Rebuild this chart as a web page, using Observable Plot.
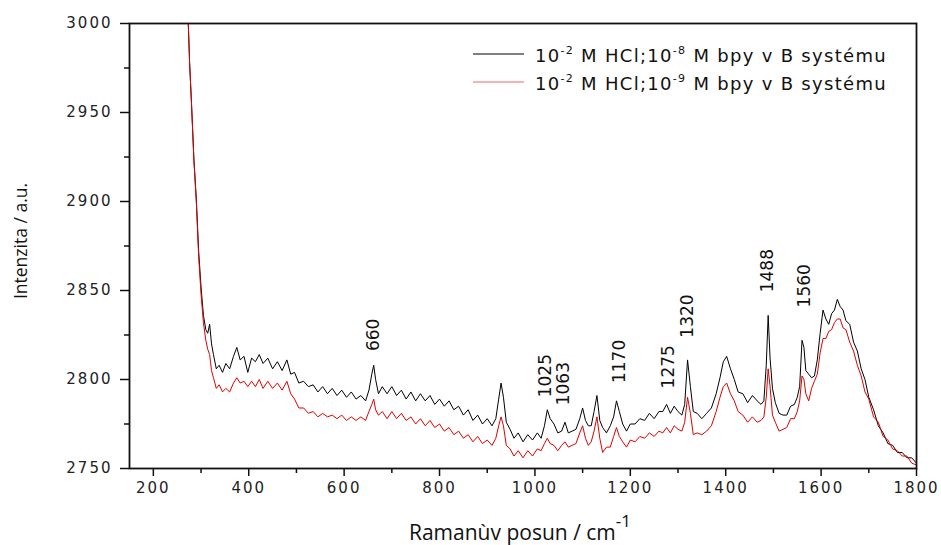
<!DOCTYPE html>
<html>
<head>
<meta charset="utf-8">
<script src="https://cdn.jsdelivr.net/npm/d3@7"></script>
<script src="https://cdn.jsdelivr.net/npm/@observablehq/plot@0.6"></script>
<style>
  html, body { margin: 0; padding: 0; background: #fff; }
  #chart { width: 941px; height: 545px; }
</style>
</head>
<body>
<div id="chart"></div>
<script>
// Raman shift (cm^-1), shared by both spectra
const ramanShift = [272,276,280,285,290,295,300,305,310,314,318,322,326,332,338,345,352,360,368,375,382,390,398,406,414,422,430,440,450,460,470,480,488,496,505,515,525,535,545,555,565,575,585,595,605,615,625,635,645,652,658,662,666,672,680,690,700,710,720,730,740,750,760,770,780,790,800,810,820,830,840,850,860,870,880,890,900,910,918,924,929,934,940,948,956,965,975,985,995,1005,1013,1020,1026,1032,1040,1048,1056,1063,1070,1078,1086,1094,1100,1106,1112,1118,1124,1130,1136,1142,1150,1158,1165,1171,1177,1184,1192,1200,1210,1220,1230,1240,1250,1260,1268,1276,1284,1292,1300,1308,1314,1320,1326,1332,1340,1350,1360,1370,1380,1388,1395,1402,1410,1418,1426,1436,1446,1456,1466,1474,1480,1485,1489,1493,1498,1504,1512,1520,1528,1536,1544,1550,1555,1560,1564,1568,1574,1580,1586,1592,1598,1604,1610,1616,1622,1628,1634,1640,1646,1652,1660,1668,1676,1684,1692,1700,1710,1720,1730,1740,1750,1760,1770,1780,1790,1800];

// 10^-2 M HCl; 10^-8 M bpy (black)
const intensity8 = [3010,2978,2955,2924,2902,2872,2852,2836,2828,2826,2831,2820,2814,2806,2808,2804,2809,2806,2813,2818,2811,2813,2804,2812,2810,2814,2809,2812,2806,2810,2805,2811,2803,2804,2798,2799,2796,2797,2793,2796,2792,2795,2791,2794,2790,2793,2789,2791,2788,2794,2803,2808,2800,2792,2796,2792,2796,2791,2794,2789,2793,2788,2792,2788,2791,2786,2789,2785,2788,2783,2785,2780,2783,2777,2780,2775,2778,2774,2778,2789,2798,2790,2776,2772,2767,2770,2765,2769,2766,2770,2767,2774,2783,2778,2775,2770,2771,2776,2770,2771,2772,2778,2784,2777,2774,2774,2782,2791,2777,2773,2770,2774,2779,2788,2782,2775,2771,2775,2775,2778,2777,2781,2778,2782,2782,2786,2781,2785,2782,2780,2786,2811,2796,2782,2781,2778,2781,2784,2792,2801,2810,2813,2806,2800,2793,2792,2787,2791,2788,2786,2788,2808,2836,2812,2795,2787,2781,2780,2780,2785,2786,2790,2796,2822,2818,2805,2803,2801,2802,2811,2826,2839,2834,2831,2837,2839,2845,2841,2839,2833,2831,2821,2816,2806,2800,2790,2783,2774,2770,2764,2763,2759,2759,2756,2756,2753];

// 10^-2 M HCl; 10^-9 M bpy (red)
const intensity9 = [3010,2978,2955,2923,2900,2869,2848,2832,2822,2817,2814,2805,2801,2795,2797,2793,2795,2793,2798,2801,2798,2799,2796,2799,2796,2800,2795,2799,2795,2798,2794,2799,2792,2789,2784,2784,2781,2782,2779,2781,2779,2780,2778,2780,2777,2779,2777,2779,2777,2782,2786,2789,2783,2780,2782,2778,2782,2778,2781,2777,2779,2775,2778,2774,2777,2773,2775,2771,2773,2769,2771,2767,2769,2765,2768,2764,2766,2763,2767,2774,2779,2774,2763,2761,2757,2760,2756,2760,2757,2761,2760,2764,2767,2764,2763,2760,2763,2765,2762,2763,2764,2770,2774,2767,2763,2765,2771,2779,2767,2759,2762,2762,2768,2773,2768,2765,2762,2766,2765,2768,2767,2770,2768,2771,2770,2773,2770,2774,2772,2771,2776,2790,2781,2769,2770,2769,2771,2774,2782,2790,2796,2798,2792,2788,2782,2780,2776,2779,2776,2777,2779,2790,2806,2796,2780,2776,2771,2772,2773,2778,2778,2782,2788,2802,2800,2792,2788,2795,2799,2803,2815,2823,2823,2827,2828,2832,2834,2834,2829,2828,2821,2816,2808,2802,2793,2789,2779,2776,2768,2766,2761,2760,2757,2757,2753,2752];

// Peak annotations
const peakLabels = ["660","1025","1063","1170","1275","1320","1488","1560"];
const peakShift  = [662,1023,1061,1178,1280,1320,1487,1565];
const peakLabelIntensity = [2816,2790,2785.5,2798,2795,2823.5,2849,2840.5];

// Axis ticks
const xMajorTicks = [200,400,600,800,1000,1200,1400,1600,1800];
const xMinorTicks = [300,500,700,900,1100,1300,1500,1700];
const yMajorTicks = [2750,2800,2850,2900,2950,3000];
const yMinorTicks = [2775,2825,2875,2925,2975];

const seriesColors = ["#000000", "#e00000"];

const black = ramanShift.map((x, i) => ({x, y: intensity8[i]}));
const red = ramanShift.map((x, i) => ({x, y: intensity9[i]}));
const peaks = peakLabels.map((t, i) => ({t, x: peakShift[i], y: peakLabelIntensity[i]}));

const tickFont = "DejaVu Sans";

const svg = Plot.plot({
  width: 941,
  height: 545,
  marginLeft: 129,
  marginRight: 25,
  marginTop: 23,
  marginBottom: 77,
  style: {fontFamily: tickFont, background: "#fff", color: "#222"},
  x: {domain: [150, 1800]},
  y: {domain: [2750, 3000]},
  marks: [
    Plot.axisX({ticks: xMajorTicks, tickFormat: "d", tickSize: 8, tickPadding: 6, fontSize: 15, label: null, stroke: "#111", strokeWidth: 1.5}),
    Plot.axisX({ticks: xMinorTicks, tickSize: 5, text: null, label: null, stroke: "#111", strokeWidth: 1.5}),
    Plot.axisY({ticks: yMajorTicks, tickFormat: "d", tickSize: 9, tickPadding: 8, fontSize: 15, label: null, stroke: "#111", strokeWidth: 1.5}),
    Plot.axisY({ticks: yMinorTicks, tickSize: 5, text: null, label: null, stroke: "#111", strokeWidth: 1.5}),
    Plot.line(black, {x: "x", y: "y", stroke: seriesColors[0], strokeWidth: 1, clip: true}),
    Plot.line(red, {x: "x", y: "y", stroke: seriesColors[1], strokeWidth: 1, clip: true}),
    Plot.frame({stroke: "#111", strokeWidth: 1.8}),
    Plot.text(peaks, {x: "x", y: "y", text: "t", rotate: -90, textAnchor: "start", lineAnchor: "middle", fontSize: 17, fill: "#111", fontFamily: tickFont})
  ]
});

document.getElementById("chart").appendChild(svg);

const s = d3.select(svg);
s.selectAll('[aria-label="x-axis tick label"] text, [aria-label="y-axis tick label"] text').attr("letter-spacing", "2px");

// Axis titles
s.append("text")
  .attr("transform", "translate(27,241) rotate(-90)")
  .attr("text-anchor", "middle")
  .attr("font-family", "Open Sans")
  .attr("font-size", 17.5)
  .attr("fill", "#111")
  .text("Intenzita / a.u.");

const xt = s.append("text")
  .attr("x", 520).attr("y", 540)
  .attr("text-anchor", "middle")
  .attr("font-family", "Open Sans")
  .attr("font-size", 21)
  .attr("fill", "#111");
xt.append("tspan").text("Ramanùv posun / cm");
xt.append("tspan").attr("dy", -13).attr("font-size", 17).text("-1");

// Legend
function legendEntry(g, y, color, exp) {
  g.append("line").attr("x1", 473).attr("x2", 524).attr("y1", y - 8).attr("y2", y - 8)
    .attr("stroke", color).attr("stroke-width", 1).attr("opacity", color === "#000000" ? 1 : 0.6);
  const t = g.append("text").attr("x", 535).attr("y", y)
    .attr("text-anchor", "start")
    .attr("letter-spacing", "1.3px")
    .attr("font-family", tickFont).attr("font-size", 18).attr("fill", "#111");
  t.append("tspan").text("10");
  t.append("tspan").attr("dy", -8).attr("font-size", 11).text("-2");
  t.append("tspan").attr("dy", 8).text(" M HCl;10");
  t.append("tspan").attr("dy", -8).attr("font-size", 11).text(exp);
  t.append("tspan").attr("dy", 8).text(" M bpy v B systému");
}
const lg = s.append("g");
legendEntry(lg, 62, seriesColors[0], "-8");
legendEntry(lg, 90, seriesColors[1], "-9");
</script>
</body>
</html>
